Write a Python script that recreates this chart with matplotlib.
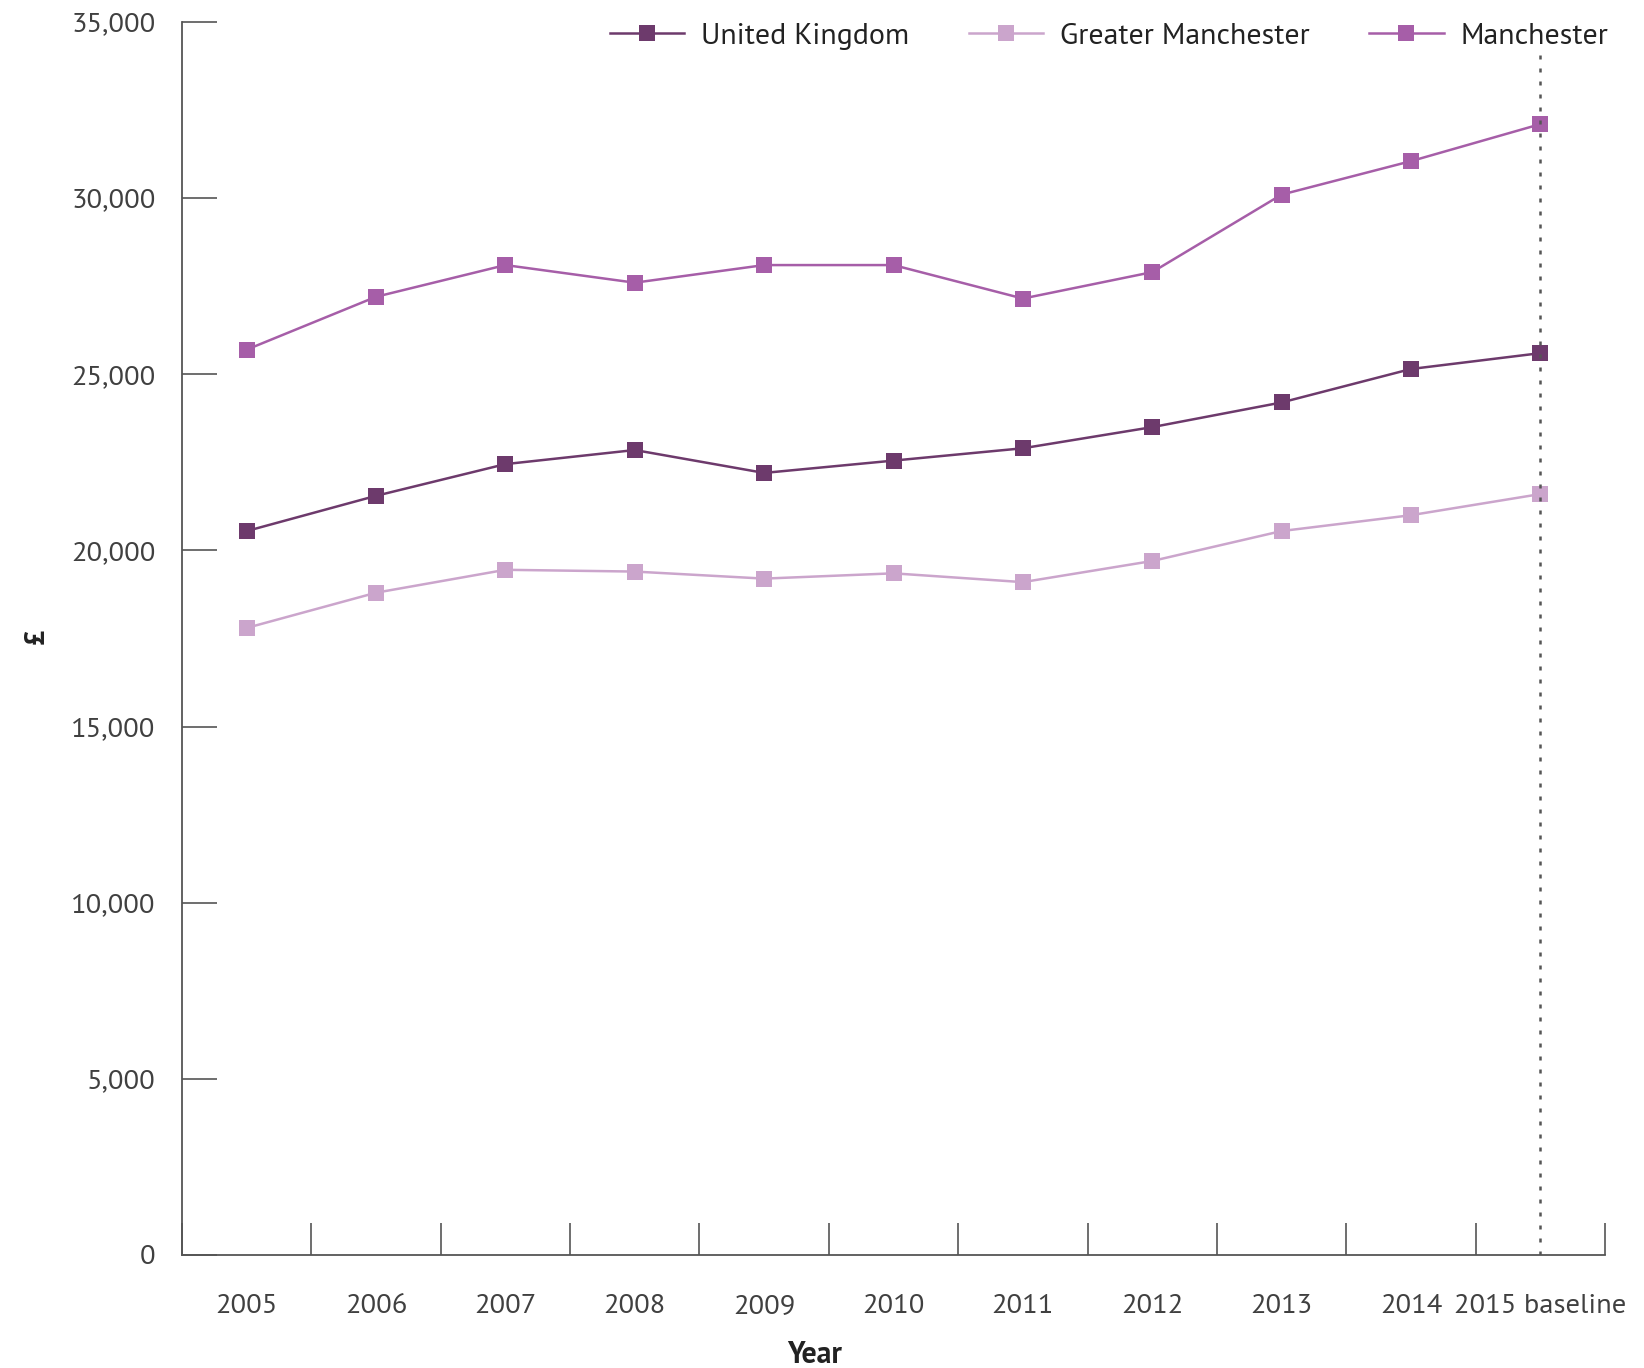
import matplotlib
matplotlib.use("Agg")
import matplotlib.pyplot as plt
from matplotlib.ticker import FuncFormatter, FixedLocator
from matplotlib.lines import Line2D

plt.rcParams['font.family'] = ['Source Sans Pro', 'PT Sans', 'Asap Condensed', 'DejaVu Sans']
plt.rcParams['font.weight'] = 'normal'

years = ["2005", "2006", "2007", "2008", "2009", "2010",
         "2011", "2012", "2013", "2014", "2015 baseline"]
united_kingdom = [20550, 21550, 22450, 22850, 22200, 22550,
                  22900, 23500, 24200, 25150, 25600]
greater_manchester = [17800, 18800, 19450, 19400, 19200, 19350,
                      19100, 19700, 20550, 21000, 21600]
manchester = [25700, 27200, 28100, 27600, 28100, 28100,
              27150, 27900, 30100, 31050, 32100]
y_ticks = [0, 5000, 10000, 15000, 20000, 25000, 30000, 35000]

series = [
    ("United Kingdom", united_kingdom, "#6d3a6c"),
    ("Greater Manchester", greater_manchester, "#cba5cc"),
    ("Manchester", manchester, "#a65ea8"),
]

fig = plt.figure(figsize=(16.44, 13.68), dpi=100)
ax = fig.add_axes([182 / 1644, 1 - 1255 / 1368, (1605 - 182) / 1644, (1255 - 22) / 1368])

x = list(range(len(years)))
for name, vals, col in series:
    ax.plot(x, vals, color=col, lw=1.8, marker="s", markersize=12,
            markeredgewidth=0, label=name, zorder=3)

# baseline marker line
ax.axvline(len(years) - 1, ymin=0, ymax=0.973, color="#555555", lw=1.8,
           dashes=(1.6, 3.6), zorder=5)

ax.set_xlim(-0.5, len(years) - 0.5)
ax.set_ylim(0, 35000)

axis_col = "#555555"
for s in ["top", "right"]:
    ax.spines[s].set_visible(False)
for s in ["left", "bottom"]:
    ax.spines[s].set_color(axis_col)
    ax.spines[s].set_linewidth(1.3)

ax.yaxis.set_major_locator(FixedLocator(y_ticks))
ax.yaxis.set_major_formatter(FuncFormatter(lambda v, p: f"{int(v):,}"))
ax.tick_params(axis="y", direction="in", length=25, width=1.2, color=axis_col,
               pad=19, labelsize=20.5, labelcolor="#404040")

ax.set_xticks(x)
ax.set_xticklabels(years)
ax.set_xticks([i - 0.5 for i in range(len(years) + 1)], minor=True)
ax.tick_params(axis="x", which="major", length=0, pad=28, labelsize=20.5,
               labelcolor="#404040")
ax.tick_params(axis="x", which="minor", direction="in", length=23, width=1.2,
               color=axis_col)

fig.text(815 / 1644, 1 - 1355 / 1368, "Year", ha="center", va="center",
         fontsize=21.5, color="#222222", fontweight="bold")
fig.text(37 / 1644, 1 - 636 / 1368, "£", ha="center", va="center",
         rotation=90, fontsize=20, color="#222222", fontweight="bold")

handles = [Line2D([0], [0], color=c, lw=1.8, marker="s", markersize=12,
                  markeredgewidth=0) for _, _, c in series]
leg = fig.legend(handles, [n for n, _, _ in series], loc="center right",
                 bbox_to_anchor=(1608 / 1644, 1 - 36 / 1368), ncol=3,
                 frameon=False, fontsize=21.5, handlelength=2.5,
                 handletextpad=0.55, columnspacing=2.0, borderaxespad=0,
                 borderpad=0)
for t in leg.get_texts():
    t.set_color("#222222")

fig.savefig("out.png", dpi=100)
